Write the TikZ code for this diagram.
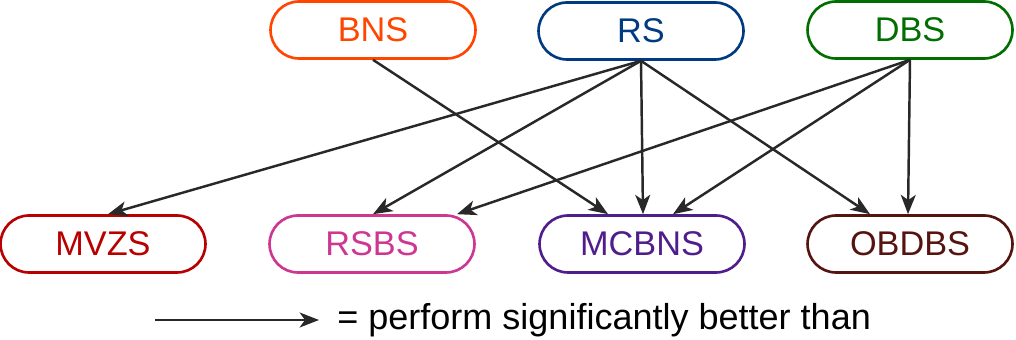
\documentclass[tikz,border=0pt]{standalone}
\usepackage{fontspec}
\setmainfont{Liberation Sans}
\usetikzlibrary{arrows.meta,calc}

\definecolor{cBNS}{RGB}{255,69,0}
\definecolor{cRS}{RGB}{0,58,128}
\definecolor{cDBS}{RGB}{0,110,0}
\definecolor{cMVZS}{RGB}{185,0,0}
\definecolor{cRSBS}{RGB}{205,55,145}
\definecolor{cMCBNS}{RGB}{80,30,140}
\definecolor{cOBDBS}{RGB}{85,20,15}
\definecolor{edgegray}{RGB}{40,40,40}

\tikzset{
  method/.style={draw=#1, text=#1, line width=1.5pt, rectangle,
    rounded corners=0.57cm, minimum width=4.1cm, minimum height=1.14cm,
    inner sep=0pt, font=\fontsize{19.5}{22}\selectfont},
  better/.style={draw=edgegray, line width=1.4pt,
    -{Stealth[length=11pt,width=8.5pt,inset=3pt]}},
}

\begin{document}
\begin{tikzpicture}[x=0.02cm,y=-0.02cm]
  \useasboundingbox (0,0) rectangle (1016,340);

  % upper row
  \node[method=cBNS]  (BNS)  at (373,30) {BNS};
  \node[method=cRS]   (RS)   at (641,31) {RS};
  \node[method=cDBS]  (DBS)  at (910,30) {DBS};

  % lower row
  \node[method=cMVZS]  (MVZS)  at (103,244) {MVZS};
  \node[method=cRSBS]  (RSBS)  at (372,244) {RSBS};
  \node[method=cMCBNS] (MCBNS) at (642,244) {MCBNS};
  \node[method=cOBDBS] (OBDBS) at (910,244) {OBDBS};

  % comparisons
  \draw[better] (BNS.south) -- ($(MCBNS.north)+(-34,0)$);

  \draw[better] (RS.south) -- ($(MVZS.north)+(5,0)$);
  \draw[better] (RS.south) -- ($(RSBS.north)+(1,0)$);
  \draw[better] (RS.south) -- ($(MCBNS.north)+(1,0)$);
  \draw[better] (RS.south) -- ($(OBDBS.north)+(-40,0)$);

  \draw[better] (DBS.south) -- ($(RSBS.north)+(85,0)$);
  \draw[better] (DBS.south) -- ($(MCBNS.north)+(31,0)$);
  \draw[better] (DBS.south) -- ($(OBDBS.north)+(-2,0)$);

  % legend
  \coordinate (legA) at (155,320);
  \coordinate (legB) at (319,320);
  \draw[better] (legA) -- (legB);
  \node[anchor=west, inner sep=0pt, font=\fontsize{20.5}{23}\selectfont]
    (legtext) at (337,320) {= perform significantly better than};
\end{tikzpicture}
\end{document}
